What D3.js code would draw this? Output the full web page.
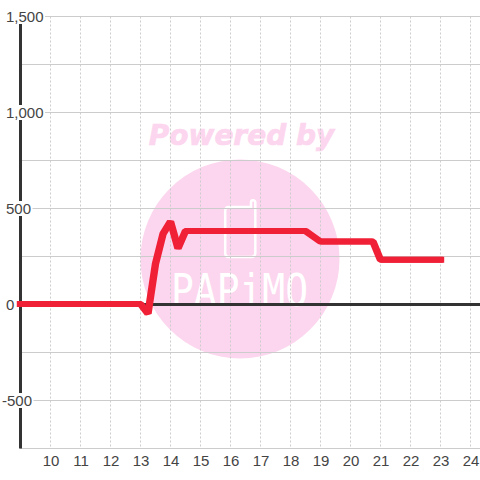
<!DOCTYPE html>
<html>
<head>
<meta charset="utf-8">
<script src="https://cdnjs.cloudflare.com/ajax/libs/d3/7.8.5/d3.min.js"></script>
<style>
html, body { margin: 0; padding: 0; background: #fff; }
svg { display: block; }
text { font-family: "Liberation Sans", Arial, sans-serif; }
</style>
</head>
<body>
<svg width="480" height="480"></svg>
<script>
var hours  = [9, 13, 13.25, 13.5, 13.75, 14, 14.25, 14.5, 18.5, 19, 20.75, 21, 23];
var values = [0, 0, -50, 210, 365, 430, 290, 380, 380, 325, 325, 230, 230];
var xTicks = [10, 11, 12, 13, 14, 15, 16, 17, 18, 19, 20, 21, 22, 23, 24];
var yGrid  = [-750, -500, -250, 0, 250, 500, 750, 1000, 1250, 1500];
var yLabels = [-500, 0, 500, 1000, 1500];

var svg = d3.select("svg");

var x = d3.scaleLinear().domain([9, 24]).range([20.5, 470.5]);
var y = d3.scaleLinear().domain([-750, 1500]).range([448.5, 16.5]);

// watermark sits under the grid
var mark = svg.append("g");
mark.append("circle")
    .attr("cx", 240).attr("cy", 259).attr("r", 99.5)
    .attr("fill", "#fcd6ee");
mark.append("text")
    .attr("x", 241.5).attr("y", 145)
    .attr("text-anchor", "middle")
    .style("font-family", "DejaVu Sans")
    .style("font-weight", "bold")
    .style("font-style", "italic")
    .style("font-size", "28px")
    .attr("fill", "#fcd6ee")
    .attr("stroke", "#fcd6ee")
    .attr("stroke-width", 0.7)
    .text("Powered by");
mark.append("path")
    .attr("d", "M229,207H251V202.5A2.1,2.1 0 0 1 255.3,202.5V253Q255.3,257 251,257H229Q225.2,257 225.2,253V211Q225.2,207 229,207Z")
    .attr("fill", "none")
    .attr("stroke", "#fff")
    .attr("stroke-width", 2.5);
mark.append("text")
    .attr("x", 171).attr("y", 306)
    .attr("textLength", 137)
    .attr("lengthAdjust", "spacingAndGlyphs")
    .style("font-family", "DejaVu Sans Mono")
    .style("font-size", "44px")
    .attr("fill", "#fff")
    .text("PAPiMO");

// grid
svg.append("g").selectAll("line")
    .data(yGrid)
  .enter().append("line")
    .attr("x1", 20).attr("x2", 480)
    .attr("y1", function(d) { return y(d); })
    .attr("y2", function(d) { return y(d); })
    .attr("stroke", "#ccc")
    .attr("stroke-width", 1);

svg.append("g").selectAll("line")
    .data(xTicks)
  .enter().append("line")
    .attr("x1", function(d) { return x(d); })
    .attr("x2", function(d) { return x(d); })
    .attr("y1", y(1500)).attr("y2", y(-750))
    .attr("stroke", "#ccc")
    .attr("stroke-width", 1)
    .attr("stroke-dasharray", "2,2");

// axis lines
svg.append("line")
    .attr("x1", 20).attr("x2", 480)
    .attr("y1", y(0)).attr("y2", y(0))
    .attr("stroke", "#333")
    .attr("stroke-width", 3);
svg.append("line")
    .attr("x1", x(9)).attr("x2", x(9))
    .attr("y1", y(1500)).attr("y2", y(-750))
    .attr("stroke", "#333")
    .attr("stroke-width", 3);

// y labels have a white box behind them
var yLabel = svg.append("g").selectAll("g")
    .data(yLabels)
  .enter().append("g");

var yText = yLabel.append("text")
    .attr("x", function(d) { return d < 0 ? 2 : 6; })
    .attr("y", function(d) { return y(d) + 5.5; })
    .style("font-size", "15px")
    .attr("fill", "#444")
    .text(function(d) { return d3.format(",")(d).replace("\u2212", "-"); });

yText.each(function(d) {
    var b = this.getBBox();
    d3.select(this.parentNode).insert("rect", "text")
        .attr("x", 0).attr("y", y(d) - 7.5)
        .attr("width", b.x + b.width + 1.5).attr("height", 15)
        .attr("fill", "#fff");
});

// series, stroked twice side by side because the steep parts are wider in the original
var line = d3.line()
    .x(function(d, i) { return x(hours[i]); })
    .y(function(d) { return y(d); });

svg.append("g").selectAll("path")
    .data([-0.7, 0.7])
  .enter().append("path")
    .attr("d", line(values))
    .attr("transform", function(d) { return "translate(" + d + ",-0.5)"; })
    .attr("fill", "none")
    .attr("stroke", "#f02037")
    .attr("stroke-width", 6)
    .attr("stroke-linecap", "square")
    .attr("stroke-linejoin", "bevel");

var xAxis = d3.axisBottom(x)
    .tickValues(xTicks)
    .tickSize(0)
    .tickPadding(7.5)
    .tickFormat(d3.format("d"));

var xg = svg.append("g")
    .attr("transform", "translate(0," + 448 + ")")
    .call(xAxis);
xg.select(".domain").remove();
xg.selectAll("text")
    .style("font-family", "\"Liberation Sans\", Arial, sans-serif")
    .style("font-size", "15px")
    .attr("fill", "#444");
</script>
</body>
</html>
